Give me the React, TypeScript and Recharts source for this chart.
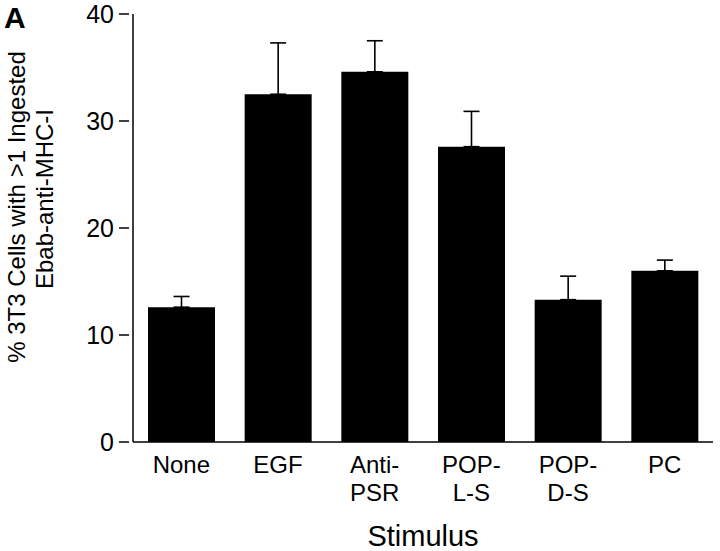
import React from 'react';
import { BarChart, Bar, XAxis, YAxis, ErrorBar } from 'recharts';

const categories = ['None', 'EGF', 'Anti-\nPSR', 'POP-\nL-S', 'POP-\nD-S', 'PC'];
const means = [12.6, 32.5, 34.6, 27.6, 13.3, 16.0];
const upperErrors = [1.0, 4.8, 2.9, 3.3, 2.2, 1.0];
const yTicks = [0, 10, 20, 30, 40];

const data = categories.map((name, i) => ({
  name,
  value: means[i],
  err: [0, upperErrors[i]],
}));

const FONT = '"Liberation Sans", Arial, Helvetica, sans-serif';

const YTick = (props: any) => {
  const { x, y, payload } = props;
  return (
    <g>
      <line x1={x - 14} x2={x - 4} y1={y} y2={y} stroke="#000" strokeWidth={1.5} />
      <text x={x - 19} y={y} dy="0.36em" textAnchor="end" fontSize={25} fontFamily={FONT} fill="#000">
        {payload.value}
      </text>
    </g>
  );
};

const XTick = (props: any) => {
  const { x, y, payload } = props;
  const lines = String(payload.value).split('\n');
  return (
    <text x={x} y={y + 31} textAnchor="middle" fontSize={24} fontFamily={FONT} fill="#000">
      {lines.map((l, i) => (
        <tspan key={i} x={x} dy={i === 0 ? 0 : 28}>
          {l}
        </tspan>
      ))}
    </text>
  );
};

export default function App() {
  return (
    <div style={{ position: 'absolute', left: 0, top: 0, width: 720, height: 551 }}>
      <BarChart width={720} height={551} data={data} margin={{ top: 14, right: 7, left: 0, bottom: 0 }}>
        <XAxis
          dataKey="name"
          interval={0}
          height={109}
          tick={XTick}
          tickLine={false}
          tickSize={0}
          tickMargin={0}
          axisLine={{ stroke: '#000', strokeWidth: 1.5 }}
          label={{
            content: (p: any) => {
              const vb = p.viewBox;
              return (
                <text x={vb.x + vb.width / 2} y={546} textAnchor="middle" fontSize={29} fontFamily={FONT} fill="#000">
                  Stimulus
                </text>
              );
            },
          }}
        />
        <XAxis xAxisId="top" orientation="top" dataKey="name" height={0} tick={false} tickLine={false} axisLine={{ stroke: '#222', strokeWidth: 1.3 }} />
        <YAxis
          width={133}
          domain={[0, 40]}
          ticks={yTicks}
          tick={YTick}
          tickLine={false}
          tickSize={0}
          tickMargin={0}
          axisLine={{ stroke: '#000', strokeWidth: 1.5 }}
          label={{
            content: () => (
              <g fontSize={24} fontFamily={FONT} fill="#000">
                <text transform="translate(25,207) rotate(-90)" textAnchor="middle">
                  % 3T3 Cells with &gt;1 Ingested
                </text>
                <text transform="translate(53,199) rotate(-90)" textAnchor="middle">
                  Ebab-anti-MHC-I
                </text>
              </g>
            ),
          }}
        />
        <YAxis yAxisId="right" orientation="right" width={0} domain={[0, 40]} tick={false} tickLine={false} axisLine={{ stroke: '#222', strokeWidth: 1.3 }} />
        <Bar dataKey="value" fill="#000" barSize={67} isAnimationActive={false}>
          <ErrorBar dataKey="err" direction="y" width={8} stroke="#000" strokeWidth={1.6} />
        </Bar>
      </BarChart>
      <div
        style={{
          position: 'absolute',
          left: 4,
          top: 3,
          fontFamily: FONT,
          fontWeight: 'bold',
          fontSize: 30,
          lineHeight: '30px',
        }}
      >
        A
      </div>
    </div>
  );
}
